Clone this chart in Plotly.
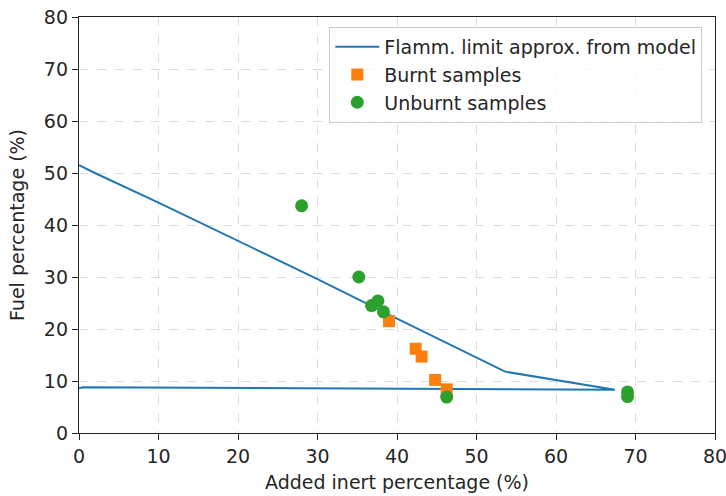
import plotly.graph_objects as go

# Flammability limit from the model: upper branch (left to right), then lower branch back to x=0
limit_inert = [0, 2, 10, 20, 30, 40, 53.6, 67.4, 40, 20, 2, 0.5, 0]
limit_fuel = [51.5, 50.0, 44.3, 37.0, 29.6, 22.0, 11.8, 8.3, 8.5, 8.6, 8.8, 8.8, 8.6]

burnt_inert = [39.0, 42.35, 43.1, 44.8, 46.25]
burnt_fuel = [21.5, 16.2, 14.7, 10.2, 8.4]

unburnt_inert = [28.0, 35.2, 36.8, 37.6, 38.3, 46.25, 69.0, 69.0]
unburnt_fuel = [43.7, 30.0, 24.5, 25.4, 23.3, 6.9, 7.9, 7.0]

ticks = [0, 10, 20, 30, 40, 50, 60, 70, 80]

FONT = "DejaVu Sans"
TXT = "#262626"
FS = 19

fig = go.Figure()
fig.add_trace(go.Scatter(
    x=limit_inert, y=limit_fuel, mode="lines",
    name="Flamm. limit approx. from model",
    line=dict(color="#1f77b4", width=2),
))
fig.add_trace(go.Scatter(
    x=burnt_inert, y=burnt_fuel, mode="markers",
    name="Burnt samples",
    marker=dict(color="#ff7f0e", symbol="square", size=12),
))
fig.add_trace(go.Scatter(
    x=unburnt_inert, y=unburnt_fuel, mode="markers",
    name="Unburnt samples",
    marker=dict(color="#2ca02c", symbol="circle", size=13),
))

axis_common = dict(
    range=[0, 80], tickvals=ticks, ticktext=[str(t) for t in ticks],
    showline=True, linecolor="#222222", linewidth=1.3, mirror=True,
    ticks="outside", ticklen=6, tickcolor="#222222", tickwidth=1.3,
    showgrid=True, gridcolor="#dcdcdc", griddash="dash", gridwidth=1,
    zeroline=False, automargin=False, ticklabeloverflow="allow",
    tickfont=dict(family=FONT, size=FS, color=TXT),
)

fig.update_layout(
    width=726, height=496,
    margin=dict(l=79, r=11, t=17, b=63),
    paper_bgcolor="white", plot_bgcolor="white",
    font=dict(family=FONT, size=FS, color=TXT),
    xaxis=dict(axis_common, title=dict(text="Added inert percentage (%)", standoff=9,
                                       font=dict(size=FS, color=TXT))),
    yaxis=dict(axis_common, title=dict(text="Fuel percentage (%)", standoff=14,
                                       font=dict(size=FS, color=TXT))),
    legend=dict(
        x=0.98, y=0.976, xanchor="right", yanchor="top",
        bgcolor="rgba(255,255,255,0.85)", bordercolor="#cccccc", borderwidth=1,
        font=dict(family=FONT, size=FS, color=TXT),
        tracegroupgap=2, itemwidth=44,
    ),
    showlegend=True,
)

fig.write_html("out.html")
